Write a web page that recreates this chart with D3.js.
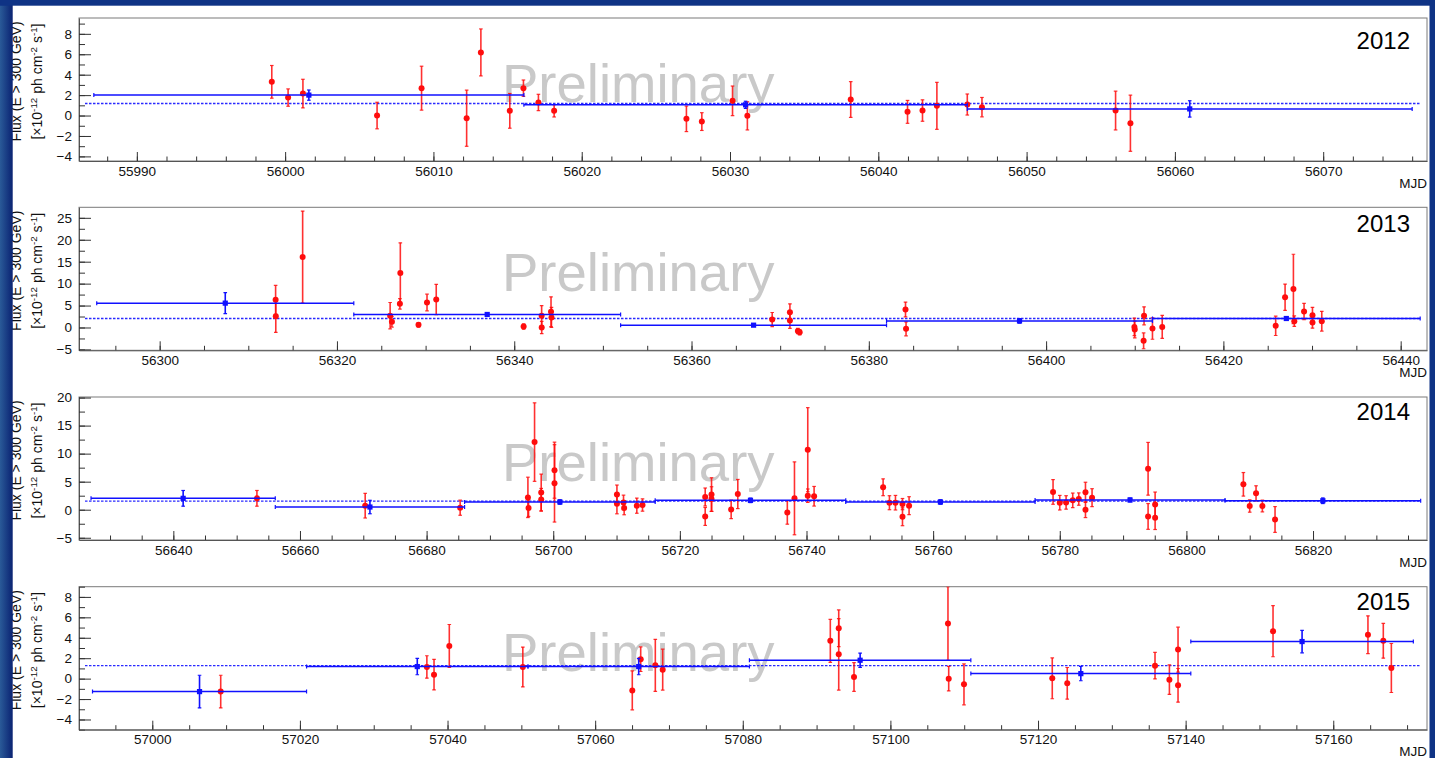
<!DOCTYPE html>
<html>
<head>
<meta charset="utf-8">
<script src="https://cdn.jsdelivr.net/npm/d3@7"></script>
<style>
  body { margin: 0; background: #0d2f80; }
  svg { display: block; font-family: "Liberation Sans", Arial, sans-serif; }
</style>
</head>
<body>
<svg id="chart" width="1435" height="758"></svg>
<script>
// ---- data ----
const years = ["2012", "2013", "2014", "2015"];
const xDomains = [[55986.1, 56077.0], [56290.9, 56442.97], [56625.1, 56838.0], [56990.07, 57172.7]];
const yDomains = [[-4.45, 9.55], [-5.2, 27.4], [-5.4, 20.1], [-5.0, 9.0]];
const xMajorStep = [10, 20, 20, 20];
const xMinorStep = [2, 5, 5, 5];
const yMajorStep = [2, 5, 5, 2];
const yMinorStep = [1, 2.5, 2.5, 1];
const meanFlux = [1.18, 2.05, 1.55, 1.27];

// monthly bins: [start MJD, end MJD, flux, error]
const bins2012 = [[55987.1, 56016.1, 2.0, 0.5], [56016.1, 56046.0, 1.05, 0.35], [56046.0, 56076.0, 0.65, 0.8]];
const bins2013 = [[56292.9, 56321.9, 5.55, 2.4], [56321.9, 56352.0, 2.97, 0.3], [56352.0, 56382.0, 0.53, 0.3],
                  [56382.0, 56412.0, 1.5, 0.5], [56412.0, 56442.2, 2.05, 0.4]];
const bins2014 = [[56627.0, 56656.1, 2.03, 1.4], [56656.1, 56686.0, 0.48, 1.2], [56686.0, 56716.1, 1.38, 0.4],
                  [56716.1, 56746.2, 1.67, 0.4], [56746.2, 56776.1, 1.38, 0.4], [56776.1, 56806.1, 1.74, 0.35],
                  [56806.1, 56837.0, 1.6, 0.5]];
const bins2015 = [[56991.9, 57020.9, -1.27, 1.6], [57020.9, 57050.9, 1.18, 0.8], [57050.9, 57080.9, 1.18, 0.8],
                  [57080.9, 57110.9, 1.8, 0.7], [57110.9, 57140.7, 0.49, 0.7], [57140.7, 57170.85, 3.63, 1.1]];

// nightly points: [MJD, flux, error]
const daily2012 = [[55999.1, 3.3, 1.6], [56000.2, 1.76, 0.85], [56001.2, 2.15, 1.4], [56006.2, 0.0, 1.3],
  [56009.2, 2.68, 2.15], [56012.24, -0.26, 2.75], [56013.2, 6.18, 2.3], [56015.15, 0.46, 1.7],
  [56016.07, 2.68, 0.8], [56017.08, 1.28, 0.8], [56018.14, 0.46, 0.6], [56027.06, -0.32, 1.25],
  [56028.1, -0.59, 0.87], [56030.17, 1.44, 1.45], [56031.17, -0.03, 1.38], [56038.14, 1.57, 1.75],
  [56041.97, 0.36, 1.12], [56042.98, 0.49, 1.05], [56043.95, 0.95, 2.3], [56046.0, 1.08, 1.03],
  [56046.99, 0.82, 0.95], [56056.0, 0.49, 1.9], [56057.0, -0.75, 2.75]];
const daily2013 = [[56313.08, 6.3, 3.3], [56313.1, 2.58, 3.7], [56316.13, 16.05, 10.5], [56326.0, 2.7, 3.0],
  [56326.2, 1.3, 1.2], [56327.15, 12.4, 6.9], [56327.1, 5.4, 1.2], [56329.2, 0.6, 0.5], [56330.16, 5.7, 1.9],
  [56331.2, 6.4, 3.45], [56341.06, 0.22, 0.6], [56343.09, 2.7, 2.3], [56343.1, 0.0, 1.4], [56344.15, 3.6, 3.4],
  [56344.2, 2.3, 2.3], [56369.1, 1.82, 1.6], [56371.1, 3.5, 1.9], [56371.1, 1.6, 1.8], [56372.0, -0.8, 0.6],
  [56372.2, -1.1, 0.6], [56384.14, 4.1, 1.7], [56384.2, -0.3, 1.6], [56409.96, 0.14, 2.0], [56410.0, -0.46, 1.9],
  [56411.05, 2.65, 2.05], [56411.0, -3.05, 1.8], [56412.0, -0.23, 2.45], [56413.1, 0.14, 2.6],
  [56425.9, 0.37, 2.2], [56426.96, 6.9, 3.0], [56427.9, 8.8, 7.9], [56428.0, 1.44, 1.2], [56429.1, 3.65, 1.85],
  [56430.05, 2.8, 1.8], [56430.05, 1.14, 1.3], [56431.1, 1.44, 2.25]];
const daily2014 = [[56653.2, 2.03, 1.4], [56670.3, 0.72, 2.2], [56685.3, 0.36, 1.35], [56696.0, 2.2, 3.6],
  [56696.1, 0.3, 1.5], [56697.05, 12.06, 7.0], [56698.1, 3.05, 3.3], [56698.1, 1.8, 2.0], [56700.2, 7.05, 5.0],
  [56700.2, 4.7, 6.9], [56710.06, 2.7, 1.7], [56710.06, 1.07, 1.8], [56711.1, 1.3, 1.3], [56711.2, 0.3, 1.2],
  [56713.2, 0.72, 1.35], [56714.1, 0.84, 1.1], [56724.0, 2.27, 1.6], [56724.0, -1.2, 1.6], [56725.0, 2.7, 3.0],
  [56725.0, 1.9, 2.2], [56728.1, 0.06, 1.65], [56729.15, 2.8, 2.6], [56736.97, -0.48, 2.1], [56738.1, 2.03, 6.5],
  [56740.2, 10.7, 7.5], [56740.2, 2.5, 1.2], [56741.2, 2.4, 1.75], [56752.1, 4.0, 1.5], [56753.1, 1.25, 1.25],
  [56754.05, 1.25, 1.3], [56755.16, 1.0, 1.0], [56755.16, -1.25, 1.6], [56756.2, 0.72, 1.6],
  [56778.94, 3.17, 2.2], [56780.0, 1.25, 1.3], [56781.0, 1.3, 1.2], [56782.05, 1.67, 1.3], [56783.0, 1.9, 1.1],
  [56784.06, 3.1, 1.8], [56784.06, 0.0, 1.4], [56785.1, 2.15, 1.6], [56793.95, 7.3, 4.7], [56793.95, -1.2, 2.3],
  [56795.06, 0.95, 2.2], [56795.06, -1.43, 2.1], [56809.0, 4.53, 2.1], [56810.0, 0.66, 1.1],
  [56811.0, 2.92, 1.35], [56812.0, 0.66, 1.05], [56814.0, -1.74, 2.3]];
const daily2015 = [[57009.27, -1.27, 1.6], [57037.2, 1.14, 1.1], [57038.17, 0.39, 1.5], [57040.24, 3.2, 2.1],
  [57050.2, 1.14, 1.95], [57065.03, -1.15, 1.9], [57066.17, 1.9, 1.2], [57068.15, 1.3, 2.55],
  [57069.15, 0.88, 2.0], [57091.86, 3.7, 2.1], [57093.0, 4.93, 1.8], [57093.0, 2.38, 3.5], [57095.07, 0.16, 1.4],
  [57107.8, 5.4, 3.6], [57107.9, 0.0, 1.2], [57109.97, -0.56, 2.0], [57121.93, 0.03, 2.0],
  [57123.96, -0.46, 1.55], [57135.85, 1.27, 1.3], [57137.8, -0.1, 1.45], [57138.97, 2.84, 2.2],
  [57138.97, -0.66, 1.65], [57151.84, 4.64, 2.5], [57164.7, 4.3, 1.85], [57166.78, 3.7, 1.7],
  [57167.87, 1.04, 2.4]];

const bins = [bins2012, bins2013, bins2014, bins2015];
const daily = [daily2012, daily2013, daily2014, daily2015];

// ---- layout ----
const W = 1435, H = 758;
const left = 79, right = 1427;
const panelTop = [18, 207.3, 397, 586.7];
const panelHeight = 143;
const yearDy = [31, 25, 23, 23.3];

const svg = d3.select("#chart");
svg.append("rect").attr("x", 0).attr("y", 0).attr("width", W).attr("height", H).attr("fill", "#ffffff");

function ticksFor(dom, step) {
  const start = Math.ceil(dom[0] / step - 1e-9) * step;
  return d3.range(start, dom[1] + 1e-9, step);
}

years.forEach((yr, i) => {
  const top = panelTop[i], bottom = top + panelHeight;
  const x = d3.scaleLinear().domain(xDomains[i]).range([left, right]);
  const y = d3.scaleLinear().domain(yDomains[i]).range([bottom, top]);
  const g = svg.append("g");

  g.append("clipPath").attr("id", "clip" + i)
    .append("rect").attr("x", left).attr("y", top).attr("width", right - left).attr("height", panelHeight);

  // watermark
  g.append("text").attr("x", 502).attr("y", top + 84)
    .attr("font-size", 54.5).attr("fill", "#c9c9c9").text("Preliminary");

  // frame
  g.append("rect").attr("x", left).attr("y", top).attr("width", right - left).attr("height", panelHeight)
    .attr("fill", "none").attr("stroke", "#7a7a7a").attr("stroke-width", 1);

  // axes (ticks inward, ROOT style)
  const yAx = g.append("g").attr("transform", `translate(${left},0)`)
    .call(d3.axisLeft(y).tickValues(ticksFor(yDomains[i], yMajorStep[i])).tickSize(-12).tickSizeOuter(0).tickPadding(7));
  g.append("g").attr("transform", `translate(${left},0)`)
    .call(d3.axisLeft(y).tickValues(ticksFor(yDomains[i], yMinorStep[i])).tickSize(-6).tickSizeOuter(0).tickFormat(""))
    .select(".domain").remove();
  const xAx = g.append("g").attr("transform", `translate(0,${bottom})`)
    .call(d3.axisBottom(x).tickValues(ticksFor(xDomains[i], xMajorStep[i])).tickSize(-9).tickSizeOuter(0)
      .tickPadding(5).tickFormat(d3.format("d")));
  g.append("g").attr("transform", `translate(0,${bottom})`)
    .call(d3.axisBottom(x).tickValues(ticksFor(xDomains[i], xMinorStep[i])).tickSize(-4.5).tickSizeOuter(0).tickFormat(""))
    .select(".domain").remove();
  g.selectAll(".tick line").attr("stroke", "#333");
  g.selectAll(".domain").attr("stroke", "#555");
  [yAx, xAx].forEach(a => a.selectAll("text").attr("font-size", 13.5).attr("fill", "#111")
    .attr("font-family", '"Liberation Sans", Arial, sans-serif'));

  g.append("text").attr("x", right).attr("y", bottom + 26.5).attr("text-anchor", "end")
    .attr("font-size", 13.5).attr("fill", "#111").text("MJD");

  // y title
  const cy = (top + bottom) / 2 - 8;
  g.append("text").attr("transform", `translate(21,${cy}) rotate(-90)`).attr("text-anchor", "middle")
    .attr("font-size", 14).attr("fill", "#111").text("Flux (E > 300 GeV)");
  const t2 = g.append("text").attr("transform", `translate(41.5,${cy}) rotate(-90)`).attr("text-anchor", "middle")
    .attr("font-size", 14).attr("fill", "#111");
  t2.append("tspan").text("[\u00d710");
  t2.append("tspan").attr("dy", -5).attr("font-size", 9.8).text("-12");
  t2.append("tspan").attr("dy", 5).text(" ph cm");
  t2.append("tspan").attr("dy", -5).attr("font-size", 9.8).text("-2");
  t2.append("tspan").attr("dy", 5).text(" s");
  t2.append("tspan").attr("dy", -5).attr("font-size", 9.8).text("-1");
  t2.append("tspan").attr("dy", 5).text("]");

  // year label
  g.append("text").attr("x", 1410).attr("y", top + yearDy[i]).attr("text-anchor", "end")
    .attr("font-size", 24).attr("fill", "#000").text(yr);

  const data = g.append("g").attr("clip-path", `url(#clip${i})`);

  // mean flux (dotted)
  data.append("line").attr("x1", left + 6).attr("x2", right - 6)
    .attr("y1", y(meanFlux[i])).attr("y2", y(meanFlux[i]))
    .attr("stroke", "#2a2aff").attr("stroke-width", 1.3).attr("stroke-dasharray", "2.5,1.5");

  // nightly points
  const red = "#ff0d0d";
  const dn = data.append("g").selectAll("g").data(daily[i]).join("g");
  dn.append("line").attr("x1", d => x(d[0])).attr("x2", d => x(d[0]))
    .attr("y1", d => y(d[1] - d[2])).attr("y2", d => y(d[1] + d[2]))
    .attr("stroke", red).attr("stroke-width", 1.6).attr("stroke-opacity", 0.85);
  [-1, 1].forEach(s => {
    dn.append("line").attr("x1", d => x(d[0]) - 1.8).attr("x2", d => x(d[0]) + 1.8)
      .attr("y1", d => y(d[1] + s * d[2])).attr("y2", d => y(d[1] + s * d[2]))
      .attr("stroke", red).attr("stroke-width", 1.2).attr("stroke-opacity", 0.85);
  });
  dn.append("circle").attr("cx", d => x(d[0])).attr("cy", d => y(d[1])).attr("r", 3)
    .attr("fill", red);

  // monthly bins
  const blue = "#1010ff";
  const bn = data.append("g").selectAll("g").data(bins[i]).join("g");
  bn.append("line").attr("x1", d => x(d[0])).attr("x2", d => x(d[1]))
    .attr("y1", d => y(d[2])).attr("y2", d => y(d[2]))
    .attr("stroke", blue).attr("stroke-width", 1.5);
  [0, 1].forEach(k => {
    bn.append("line").attr("x1", d => x(d[k])).attr("x2", d => x(d[k]))
      .attr("y1", d => y(d[2]) - 2).attr("y2", d => y(d[2]) + 2)
      .attr("stroke", blue).attr("stroke-width", 1.2);
  });
  bn.append("line").attr("x1", d => x((d[0] + d[1]) / 2)).attr("x2", d => x((d[0] + d[1]) / 2))
    .attr("y1", d => y(d[2] - d[3])).attr("y2", d => y(d[2] + d[3]))
    .attr("stroke", blue).attr("stroke-width", 1.6);
  [-1, 1].forEach(s => {
    bn.append("line").attr("x1", d => x((d[0] + d[1]) / 2) - 1.8).attr("x2", d => x((d[0] + d[1]) / 2) + 1.8)
      .attr("y1", d => y(d[2] + s * d[3])).attr("y2", d => y(d[2] + s * d[3]))
      .attr("stroke", blue).attr("stroke-width", 1.2);
  });
  bn.append("rect").attr("x", d => x((d[0] + d[1]) / 2) - 2.6).attr("y", d => y(d[2]) - 2.6)
    .attr("width", 5.2).attr("height", 5.2).attr("fill", blue);
});

// slide background strips around the white canvas
const grad = svg.append("defs").append("linearGradient").attr("id", "strip").attr("x1", 0).attr("x2", 1);
grad.append("stop").attr("offset", 0).attr("stop-color", "#2a5a98");
grad.append("stop").attr("offset", 1).attr("stop-color", "#0a2272");
svg.append("rect").attr("x", 0).attr("y", 0).attr("width", 12.7).attr("height", H).attr("fill", "url(#strip)");
svg.append("rect").attr("x", 0).attr("y", 0).attr("width", W).attr("height", 5.7).attr("fill", "#0f3385");
svg.append("rect").attr("x", 1429.5).attr("y", 0).attr("width", W - 1429.5).attr("height", H).attr("fill", "#0f3385");
</script>
</body>
</html>
